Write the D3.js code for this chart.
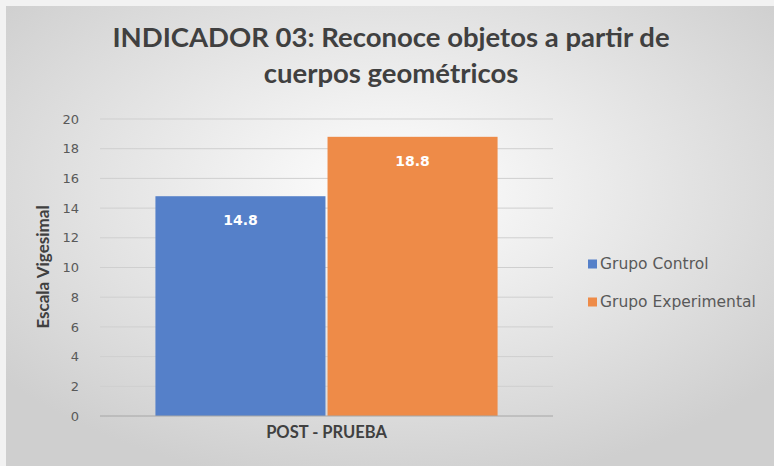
<!DOCTYPE html>
<html lang="es">
<head>
<meta charset="UTF-8" />
<title>Indicador 03</title>
<script src="https://d3js.org/d3.v7.min.js"></script>
<style>
  body { margin: 0; background: #fff; }
  svg { display: block; }
</style>
</head>
<body>
<svg id="chart"></svg>
<script>
  const categories = ["POST - PRUEBA"];
  const seriesNames = ["Grupo Control", "Grupo Experimental"];
  const seriesValues = [[14.8], [18.8]];
  const colors = ["#5580c9", "#ee8b48"];
  const yTicks = [0, 2, 4, 6, 8, 10, 12, 14, 16, 18, 20];
  const titleLines = ["INDICADOR 03: Reconoce objetos a partir de", "cuerpos geométricos"];

  const W = 774, H = 466;
  const plot = { left: 100, right: 553, top: 119, bottom: 416 };

  const svg = d3.select("#chart").attr("width", W).attr("height", H);

  const defs = svg.append("defs");
  const grad = defs.append("radialGradient")
    .attr("id", "bg").attr("cx", "50%").attr("cy", "40%").attr("r", "65%");
  grad.append("stop").attr("offset", "0%").attr("stop-color", "#ffffff");
  grad.append("stop").attr("offset", "100%").attr("stop-color", "#cfcfcf");

  svg.append("rect").attr("width", W).attr("height", H).attr("fill", "#f2f2f2");
  svg.append("rect").attr("x", 6).attr("y", 6).attr("width", W - 6).attr("height", H - 6)
    .attr("fill", "url(#bg)");

  // title
  svg.append("g").selectAll("text").data(titleLines).join("text")
    .attr("x", 391)
    .attr("y", (d, i) => 47 + i * 36)
    .attr("text-anchor", "middle")
    .style("font-family", "Lato, 'Open Sans', sans-serif")
    .style("font-weight", "bold")
    .style("font-size", "27.5px")
    .style("fill", "#404040")
    .text(d => d);

  const y = d3.scaleLinear().domain([0, 20]).range([plot.bottom, plot.top]);
  const x0 = d3.scaleBand().domain(categories).range([plot.left, plot.right]).paddingInner(0).paddingOuter(0.162);
  const x1 = d3.scaleBand().domain(seriesNames).range([0, x0.bandwidth()]).paddingInner(0.012);

  // gridlines
  svg.append("g").selectAll("line").data(yTicks.filter(t => t > 0)).join("line")
    .attr("x1", plot.left).attr("x2", plot.right)
    .attr("y1", d => y(d)).attr("y2", d => y(d))
    .attr("stroke", "#cfcfcf").attr("stroke-width", 1);

  // y axis labels
  const yAxis = svg.append("g")
    .attr("transform", "translate(" + (plot.left - 21) + ",0)")
    .call(d3.axisLeft(y).tickValues(yTicks).tickSize(0).tickPadding(0));
  yAxis.select(".domain").remove();
  yAxis.selectAll("text")
    .style("font-family", "'DejaVu Sans', sans-serif")
    .style("font-size", "13px")
    .style("fill", "#595959");

  // bars
  const data = categories.flatMap((c, ci) =>
    seriesNames.map((s, si) => ({ cat: c, series: s, value: seriesValues[si][ci], color: colors[si] })));

  const bars = svg.append("g");
  bars.selectAll("rect").data(data).join("rect")
    .attr("x", d => x0(d.cat) + x1(d.series))
    .attr("y", d => y(d.value))
    .attr("width", x1.bandwidth())
    .attr("height", d => y(0) - y(d.value))
    .attr("fill", d => d.color);

  bars.selectAll("text").data(data).join("text")
    .attr("x", d => x0(d.cat) + x1(d.series) + x1.bandwidth() / 2)
    .attr("y", d => y(d.value) + 29)
    .attr("text-anchor", "middle")
    .style("font-family", "'DejaVu Sans', sans-serif")
    .style("font-weight", "bold")
    .style("font-size", "14px")
    .style("fill", "#ffffff")
    .text(d => d.value.toFixed(1));

  // x axis
  svg.append("line")
    .attr("x1", plot.left).attr("x2", plot.right)
    .attr("y1", y(0)).attr("y2", y(0))
    .attr("stroke", "#a6a6a6").attr("stroke-width", 1);

  const xAxis = svg.append("g")
    .attr("transform", "translate(0,438)")
    .call(d3.axisBottom(x0).tickSize(0).tickPadding(0));
  xAxis.select(".domain").remove();
  xAxis.selectAll("text")
    .attr("y", 0)
    .attr("dy", "0")
    .style("font-family", "Lato, 'Open Sans', sans-serif")
    .style("font-weight", "bold")
    .style("font-size", "16.5px")
    .style("fill", "#404040");

  // y axis title
  svg.append("text")
    .attr("transform", "translate(49,267) rotate(-90)")
    .attr("text-anchor", "middle")
    .style("font-family", "Lato, 'Open Sans', sans-serif")
    .style("font-weight", "bold")
    .style("font-size", "17px")
    .style("fill", "#404040")
    .text("Escala Vigesimal");

  // legend
  const legend = svg.append("g").selectAll("g").data(seriesNames).join("g")
    .attr("transform", (d, i) => "translate(588," + (264 + i * 38) + ")");
  legend.append("rect")
    .attr("x", 0).attr("y", -4.5).attr("width", 9).attr("height", 9)
    .attr("fill", (d, i) => colors[i]);
  legend.append("text")
    .attr("x", 12).attr("y", 0).attr("dy", "0.35em")
    .style("font-family", "'DejaVu Sans', sans-serif")
    .style("font-size", "15.5px")
    .style("fill", "#595959")
    .text(d => d);
</script>
</body>
</html>
